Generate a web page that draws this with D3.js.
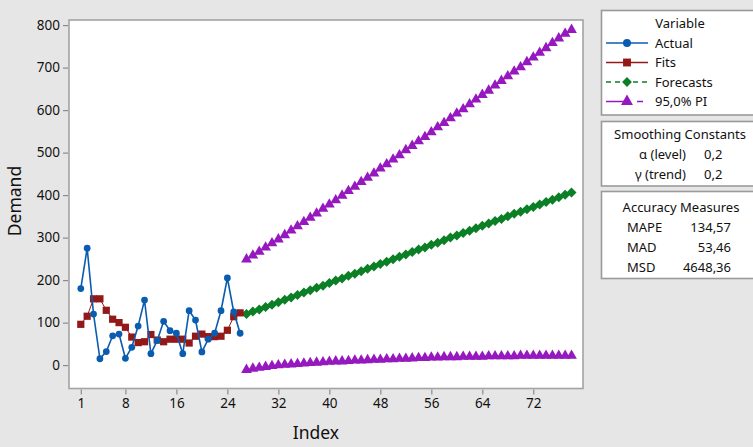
<!DOCTYPE html>
<html>
<head>
<meta charset="utf-8">
<script src="https://cdnjs.cloudflare.com/ajax/libs/d3/7.8.5/d3.min.js"></script>
<style>
    body { margin: 0; background: #e6e6e6; }
    svg { display: block; font-family: "Noto Sans", "Open Sans", sans-serif; }
</style>
</head>
<body>
<script>
/***** data ****/

// observed demand, index 1..26
var actual = [180, 275, 120, 15, 32, 69, 73, 16, 42, 92, 153, 27, 58,
    103, 81, 75, 27, 128, 106, 31, 61, 75, 128, 205, 125, 75];

// one-step fits, index 1..26
var fits = [96, 115, 156, 156, 129, 108, 100, 89, 66, 53, 55, 72, 59,
    55, 61, 61, 61, 52, 68, 73, 67, 67, 68, 82, 114, 123];

// forecasts and the 95% PI, index 27..78
var firstForecast = 27;
var forecasts = [120, 126, 131, 137, 142, 148, 154, 159, 165, 171, 176, 182, 187,
    193, 199, 204, 210, 215, 221, 227, 232, 238, 243, 249, 255, 260,
    266, 272, 277, 283, 288, 294, 300, 305, 311, 316, 322, 328, 333,
    339, 344, 350, 356, 361, 367, 372, 378, 384, 389, 395, 401, 406];
var upperPI = [249, 258, 267, 277, 287, 296, 306, 317, 327, 337, 347, 357, 368,
    378, 388, 399, 410, 420, 431, 441, 451, 463, 473, 484, 494, 506,
    516, 527, 537, 548, 560, 570, 581, 592, 602, 614, 625, 636, 646,
    658, 669, 680, 691, 701, 713, 724, 735, 746, 758, 769, 780, 789];
var lowerPI = [-11, -8, -6, -4, -2, 0, 1, 2, 3, 4, 5, 6, 7,
    8, 9, 9, 10, 11, 11, 12, 13, 13, 14, 14, 15, 15,
    16, 17, 17, 18, 18, 19, 19, 19, 20, 20, 20, 20, 21,
    21, 21, 21, 21, 22, 22, 22, 22, 22, 22, 22, 22, 22];

var xTicks = [1, 8, 16, 24, 32, 40, 48, 56, 64, 72];
var yTicks = [0, 100, 200, 300, 400, 500, 600, 700, 800];

var legendLabels = ["Actual", "Fits", "Forecasts", "95,0% PI"];
var smoothingRows = [["\u03b1 (level)", "0,2"], ["\u03b3 (trend)", "0,2"]];
var accuracyRows = [["MAPE", "134,57"], ["MAD", "53,46"], ["MSD", "4648,36"]];

/***** chart ****/

var width = 753,
    height = 447,
    plot = {left: 69, top: 20, right: 583, bottom: 388.5};

var blue = "#0a5cb0",
    red = "#931818",
    green = "#0b7f25",
    purple = "#9618bf";

var svg = d3.select("body").append("svg")
    .attr("width", width)
    .attr("height", height);

svg.append("rect")
    .attr("width", width)
    .attr("height", height)
    .attr("fill", "#e6e6e6");

var x = d3.scaleLinear()
    .domain([-0.85, 79.8])
    .range([plot.left, plot.right]);

var y = d3.scaleLinear()
    .domain([-55, 812])
    .range([plot.bottom, plot.top]);

// white data region with grey frame
svg.append("rect")
    .attr("x", plot.left)
    .attr("y", plot.top)
    .attr("width", plot.right - plot.left)
    .attr("height", plot.bottom - plot.top)
    .attr("fill", "#fff")
    .attr("stroke", "#a3a3a3")
    .attr("stroke-width", 1.6);

var yAxis = svg.append("g")
    .attr("transform", "translate(" + (plot.left - 1) + ",0)")
    .call(d3.axisLeft(y).tickValues(yTicks).tickSize(5).tickPadding(3));

var xAxis = svg.append("g")
    .attr("transform", "translate(0," + (plot.bottom + 1) + ")")
    .call(d3.axisBottom(x).tickValues(xTicks).tickSize(5).tickPadding(4));

[yAxis, xAxis].forEach(function (g) {
    g.select(".domain").remove();
    g.selectAll(".tick line").attr("stroke", "#8c8c8c").attr("stroke-width", 1.2);
    g.selectAll(".tick text")
        .attr("fill", "#111")
        .style("font-size", "13.5px")
        .style("font-family", "Noto Sans, sans-serif");
});

svg.append("text")
    .attr("transform", "translate(21,201) rotate(-90)")
    .attr("text-anchor", "middle")
    .attr("fill", "#111")
    .style("font-size", "17.5px")
    .text("Demand");

svg.append("text")
    .attr("x", 316)
    .attr("y", 439)
    .attr("text-anchor", "middle")
    .attr("fill", "#111")
    .style("font-size", "17.5px")
    .text("Index");

// helpers to turn arrays into {i, v} points
function series(values, start) {
    return values.map(function (v, k) { return {i: start + k, v: v}; });
}

var line = d3.line()
    .x(function (d) { return x(d.i); })
    .y(function (d) { return y(d.v); });

var symbols = {
    circle: d3.symbol().type(d3.symbolCircle).size(36),
    square: d3.symbol().type(d3.symbolSquare).size(52),
    diamond: d3.symbol().type(d3.symbolSquare).size(50),
    triangle: d3.symbol().type(d3.symbolTriangle).size(50)
};

var layers = [
    {data: series(lowerPI, firstForecast), color: purple, sym: "triangle", width: 1.3, dash: "14,5"},
    {data: series(upperPI, firstForecast), color: purple, sym: "triangle", width: 1.3, dash: "14,5"},
    {data: series(forecasts, firstForecast), color: green, sym: "diamond", width: 1.3, dash: "5,4"},
    {data: series(fits, 1), color: red, sym: "square", width: 1, dash: null},
    {data: series(actual, 1), color: blue, sym: "circle", width: 1.6, dash: null}
];

layers.forEach(function (l) {
    svg.append("path")
        .datum(l.data)
        .attr("d", line)
        .attr("fill", "none")
        .attr("stroke", l.color)
        .attr("stroke-width", l.width)
        .attr("stroke-dasharray", l.dash);

    svg.append("g").selectAll("path")
        .data(l.data)
        .enter().append("path")
        .attr("d", symbols[l.sym])
        .attr("transform", function (d) {
            var t = "translate(" + x(d.i) + "," + y(d.v) + ")";
            return l.sym == "diamond" ? t + " rotate(45)" : t;
        })
        .attr("fill", l.color);
});

/***** side panels ****/

function box(top, h) {
    svg.append("rect")
        .attr("x", 601.5)
        .attr("y", top)
        .attr("width", 160)
        .attr("height", h)
        .attr("fill", "#fff")
        .attr("stroke", "#9a9a9a")
        .attr("stroke-width", 1.6);
}

function label(txt, px, py, anchor) {
    svg.append("text")
        .attr("x", px)
        .attr("y", py)
        .attr("text-anchor", anchor || "start")
        .attr("fill", "#111")
        .style("font-size", "13px")
        .text(txt);
}

box(10.5, 104.5);
label("Variable", 680, 28, "middle");

var legendItems = [
    {color: blue, sym: "circle", dash: null},
    {color: red, sym: "square", dash: null},
    {color: green, sym: "diamond", dash: "5,4"},
    {color: purple, sym: "triangle", dash: "19,12,6"}
];

legendItems.forEach(function (it, k) {
    var ly = 43 + k * 19.5;
    svg.append("line")
        .attr("x1", 606).attr("x2", 648)
        .attr("y1", ly).attr("y2", ly)
        .attr("stroke", it.color)
        .attr("stroke-width", 1.6)
        .attr("stroke-dasharray", it.dash);
    svg.append("path")
        .attr("d", d3.symbol().type(it.sym == "circle" ? d3.symbolCircle :
            it.sym == "triangle" ? d3.symbolTriangle : d3.symbolSquare)
            .size(it.sym == "circle" ? 50 : it.sym == "diamond" ? 48 : 62))
        .attr("transform", "translate(627," + ly + ")" + (it.sym == "diamond" ? " rotate(45)" : ""))
        .attr("fill", it.color);
    label(legendLabels[k], 655, ly + 4.5);
});

box(121.5, 64.5);
label("Smoothing Constants", 680, 139, "middle");
smoothingRows.forEach(function (r, k) {
    label(r[0], 686, 159 + k * 20, "end");
    label(r[1], 704, 159 + k * 20);
});

box(191.5, 87);
label("Accuracy Measures", 681, 211.5, "middle");
accuracyRows.forEach(function (r, k) {
    label(r[0], 627, 231.5 + k * 20);
    label(r[1], 731, 231.5 + k * 20, "end");
});
</script>
</body>
</html>
